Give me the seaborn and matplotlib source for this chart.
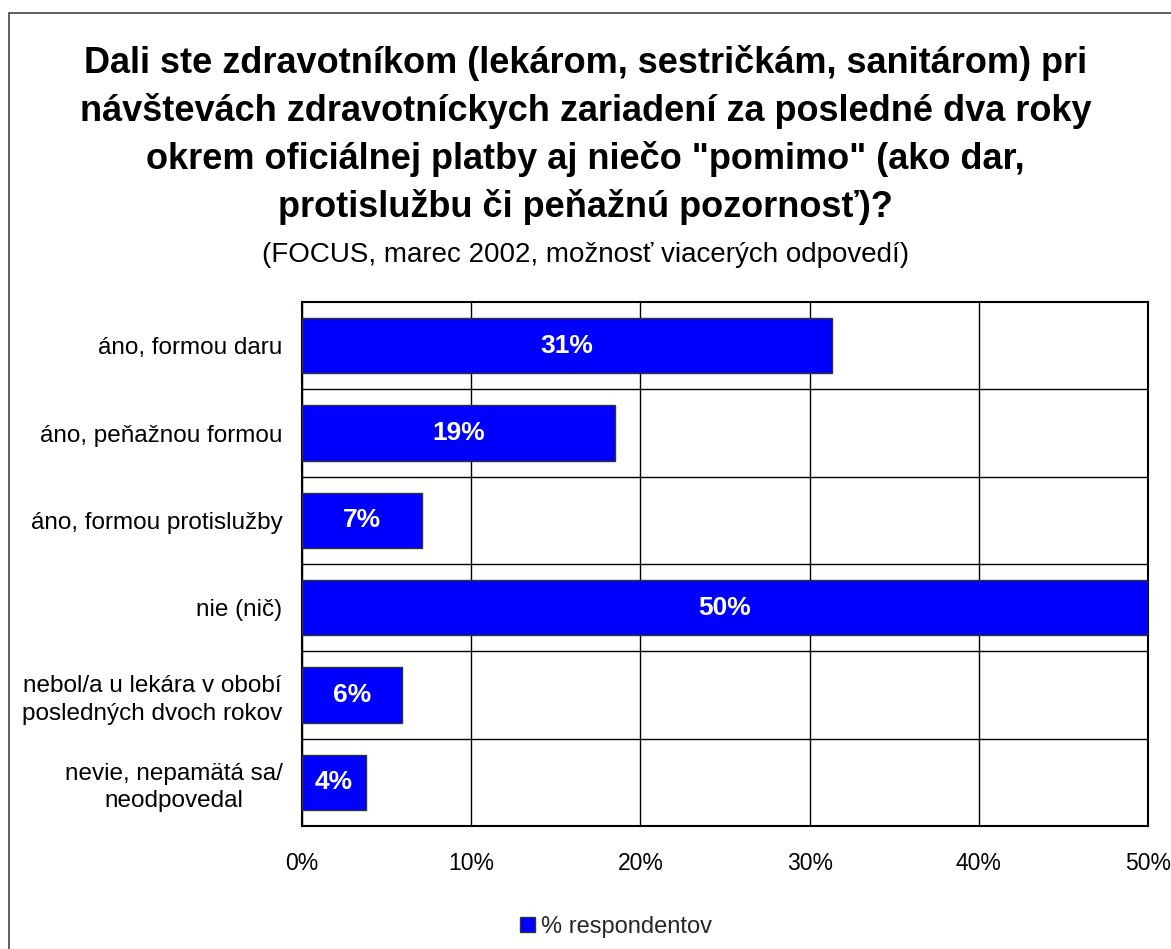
import matplotlib
matplotlib.use('Agg')
import matplotlib.pyplot as plt
import seaborn as sns
import pandas as pd
from matplotlib.patches import Rectangle
from matplotlib.ticker import FixedLocator, PercentFormatter

# ---- data ----
categories = [
    'áno, formou daru',
    'áno, peňažnou formou',
    'áno, formou protislužby',
    'nie (nič)',
    'nebol/a u lekára v obobí\nposledných dvoch rokov',
    'nevie, nepamätá sa/\nneodpovedal',
]
values = [31.3, 18.5, 7.1, 50.0, 5.9, 3.8]
value_labels = ['31%', '19%', '7%', '50%', '6%', '4%']
series_name = '% respondentov'
x_ticks = [0, 10, 20, 30, 40, 50]
title_lines = [
    'Dali ste zdravotníkom (lekárom, sestričkám, sanitárom) pri',
    'návštevách zdravotníckych zariadení za posledné dva roky',
    'okrem oficiálnej platby aj niečo "pomimo" (ako dar,',
    'protislužbu či peňažnú pozornosť)?',
]
subtitle = '(FOCUS, marec 2002, možnosť viacerých odpovedí)'

# ---- style ----
sns.set_theme(style='white')
plt.rcParams['font.family'] = ['Liberation Sans', 'DejaVu Sans']

W, H = 1171, 949
fig = plt.figure(figsize=(W / 100, H / 100), dpi=100)
fig.patch.set_facecolor('white')

ax = fig.add_axes([302 / W, 1 - 826 / H, (1148 - 302) / W, (826 - 302) / H])

df = pd.DataFrame({'category': categories, 'value': values, 'series': series_name})
sns.barplot(data=df, x='value', y='category', hue='series', palette=['#0000FF'],
            orient='h', width=0.63, edgecolor='#333333', linewidth=1,
            saturation=1, ax=ax, legend=True, zorder=3)

ax.set_xlim(0, 50)
ax.set_ylim(5.5, -0.5)
ax.set_xlabel('')
ax.set_ylabel('')
ax.xaxis.set_major_locator(FixedLocator(x_ticks))
ax.xaxis.set_major_formatter(PercentFormatter(xmax=100, decimals=0))
ax.yaxis.set_minor_locator(FixedLocator([i + 0.5 for i in range(len(categories) - 1)]))

ax.set_axisbelow(True)
ax.grid(False)
ax.grid(axis='x', which='major', color='black', linewidth=1.0)
ax.grid(axis='y', which='minor', color='black', linewidth=1.0)
ax.tick_params(axis='both', which='both', length=0)
ax.tick_params(axis='x', labelsize=16.5, pad=19, colors='black')
ax.tick_params(axis='y', labelsize=17.5, pad=14, colors='black')
for lbl in ax.get_yticklabels():
    lbl.set_multialignment('center')
    lbl.set_linespacing(1.32)

for sp in ax.spines.values():
    sp.set_visible(True)
    sp.set_color('black')
    sp.set_linewidth(1.5)

ax.bar_label(ax.containers[0], labels=value_labels, label_type='center',
             color='white', fontweight='bold', fontsize=19)

handles, labels = ax.get_legend_handles_labels()
if ax.get_legend() is not None:
    ax.get_legend().remove()
fig.legend(handles, labels, loc='center', bbox_to_anchor=(616 / W, 1 - 927 / H),
           frameon=False, fontsize=17, handlelength=0.62, handleheight=0.62,
           handletextpad=0.25)

# ---- titles ----
baselines = [73, 121, 169, 217]
for line, yb in zip(title_lines, baselines):
    fig.text(0.5, 1 - yb / H, line, ha='center', va='baseline',
             fontsize=26, fontweight='bold', color='black')
fig.text(0.5, 1 - 262 / H, subtitle, ha='center', va='baseline',
         fontsize=20, color='black')

# ---- outer frame ----
fig.patches.append(Rectangle((9 / W, -0.1), 1.2, (1 - 12.7 / H) + 0.1,
                             transform=fig.transFigure, fill=False,
                             edgecolor='#444444', linewidth=1.2))

fig.savefig('out.png', dpi=100)
